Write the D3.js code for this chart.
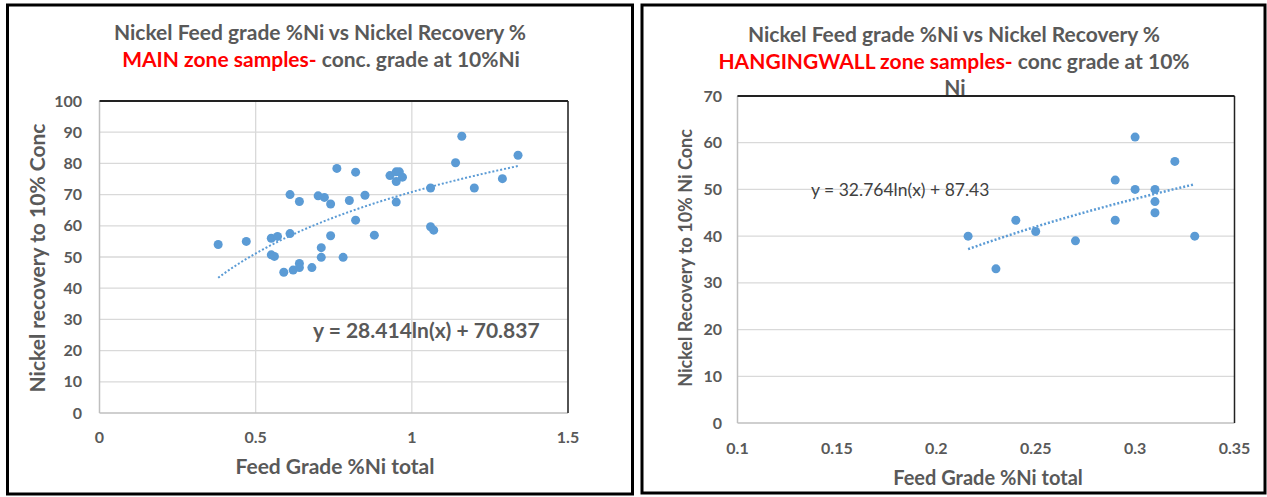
<!DOCTYPE html>
<html>
<head>
<meta charset="utf-8">
<script src="https://cdn.jsdelivr.net/npm/d3@7"></script>
<style>
  body { margin: 0; background: #fff; }
  text { font-family: Lato, "Open Sans", sans-serif; }
</style>
</head>
<body>
<script>
// MAIN zone samples: feed grade %Ni, recovery %
const mainGrade = [0.38, 0.47, 0.55, 0.57, 0.61, 0.55, 0.56, 0.59, 0.62, 0.64, 0.64, 0.68, 0.71, 0.71,
  0.74, 0.78, 0.82, 0.88, 0.61, 0.64, 0.70, 0.72, 0.74, 0.80, 0.85, 0.76, 0.82, 0.93, 0.95, 0.96,
  0.97, 0.95, 0.95, 1.06, 1.06, 1.07, 1.14, 1.16, 1.20, 1.29, 1.34];
const mainRecovery = [54, 55, 56, 56.6, 57.5, 50.7, 50.2, 45.1, 45.8, 47.9, 46.6, 46.6, 53, 49.9,
  56.8, 49.9, 61.8, 57, 70, 67.8, 69.6, 69.1, 67, 68.1, 69.8, 78.4, 77.2, 76.1, 77.3, 77.3,
  75.6, 74.2, 67.6, 72.1, 59.7, 58.6, 80.2, 88.7, 72.1, 75.1, 82.6];
const mainFit = { a: 28.414, b: 70.837, from: 0.38, to: 1.34 };

// HANGINGWALL zone samples
const hwGrade = [0.216, 0.23, 0.24, 0.25, 0.27, 0.29, 0.29, 0.30, 0.30, 0.31, 0.31, 0.31, 0.32, 0.33];
const hwRecovery = [40, 33, 43.4, 41, 39, 52, 43.4, 61.2, 50, 50, 47.4, 45, 56, 40];
const hwFit = { a: 32.764, b: 87.43, from: 0.216, to: 0.33 };

const mainXTicks = [0, 0.5, 1, 1.5];
const mainYTicks = [0, 10, 20, 30, 40, 50, 60, 70, 80, 90, 100];
const hwXTicks = [0.1, 0.15, 0.2, 0.25, 0.3, 0.35];
const hwYTicks = [0, 10, 20, 30, 40, 50, 60, 70];

const W = 1267, H = 497;
const blue = "#5B9BD5", gray = "#595959", grid = "#d9d9d9";

const svg = d3.select("body").append("svg")
  .attr("width", W).attr("height", H);

// outer frames
svg.append("rect").attr("x", 7.5).attr("y", 5).attr("width", 625).attr("height", 489)
  .attr("fill", "none").attr("stroke", "#000").attr("stroke-width", 3);
svg.append("rect").attr("x", 642).attr("y", 5).attr("width", 623).attr("height", 488)
  .attr("fill", "none").attr("stroke", "#000").attr("stroke-width", 3);

function drawChart(cfg) {
  const x = d3.scaleLinear().domain(cfg.xDomain).range(cfg.xRange);
  const y = d3.scaleLinear().domain(cfg.yDomain).range(cfg.yRange);
  const g = svg.append("g");

  // horizontal gridlines
  g.selectAll(".hgrid").data(cfg.yTicks.slice(1))
    .enter().append("line")
    .attr("x1", cfg.xRange[0]).attr("x2", cfg.xRange[1])
    .attr("y1", d => y(d)).attr("y2", d => y(d))
    .attr("stroke", grid).attr("stroke-width", 1.3);

  if (cfg.vGrid) {
    g.selectAll(".vgrid").data(cfg.xTicks.slice(1))
      .enter().append("line")
      .attr("x1", d => x(d)).attr("x2", d => x(d))
      .attr("y1", cfg.yRange[0]).attr("y2", cfg.yRange[1])
      .attr("stroke", grid).attr("stroke-width", 1.3);
  }

  // axes lines (bottom / left lighter, top / right dark)
  g.append("line").attr("x1", cfg.xRange[0]).attr("x2", cfg.xRange[1])
    .attr("y1", cfg.yRange[0]).attr("y2", cfg.yRange[0])
    .attr("stroke", "#bfbfbf").attr("stroke-width", 1.5);
  g.append("line").attr("x1", cfg.xRange[0]).attr("x2", cfg.xRange[0])
    .attr("y1", cfg.yRange[0]).attr("y2", cfg.yRange[1])
    .attr("stroke", "#bfbfbf").attr("stroke-width", 1.5);
  g.append("line").attr("x1", cfg.xRange[0]).attr("x2", cfg.xRange[1])
    .attr("y1", cfg.yRange[1]).attr("y2", cfg.yRange[1])
    .attr("stroke", "#222").attr("stroke-width", 2);
  g.append("line").attr("x1", cfg.xRange[1]).attr("x2", cfg.xRange[1])
    .attr("y1", cfg.yRange[0]).attr("y2", cfg.yRange[1])
    .attr("stroke", "#222").attr("stroke-width", 1.5);

  // tick labels
  g.selectAll(".ylab").data(cfg.yTicks).enter().append("text")
    .attr("x", cfg.yLabelX).attr("y", d => y(d))
    .attr("dy", "0.35em").attr("text-anchor", "end")
    .attr("font-size", 16).attr("font-weight", 700).attr("fill", gray)
    .text(d => d);
  g.selectAll(".xlab").data(cfg.xTicks).enter().append("text")
    .attr("x", d => x(d)).attr("y", cfg.xLabelY)
    .attr("dy", "0.35em").attr("text-anchor", "middle")
    .attr("font-size", 16).attr("font-weight", 700).attr("fill", gray)
    .text(d => d);

  // axis titles
  g.append("text")
    .attr("x", cfg.xTitle[0]).attr("y", cfg.xTitle[1])
    .attr("dy", "0.35em").attr("text-anchor", "middle")
    .attr("font-size", cfg.xTitle[2]).attr("font-weight", 700).attr("fill", gray)
    .text("Feed Grade %Ni total");
  g.append("text")
    .attr("transform", `translate(${cfg.yTitle[0]},${cfg.yTitle[1]}) rotate(-90)`)
    .attr("dy", "0.35em").attr("text-anchor", "middle")
    .attr("font-size", cfg.yTitle[2]).attr("font-weight", 700).attr("fill", gray)
    .text(cfg.yTitleText);

  // trendline
  const fx = d3.range(0, 61).map(i => cfg.fit.from + (cfg.fit.to - cfg.fit.from) * i / 60);
  g.append("path")
    .datum(fx)
    .attr("fill", "none").attr("stroke", blue)
    .attr("stroke-width", cfg.fitWidth).attr("stroke-dasharray", "2,2")
    .attr("d", d3.line().x(d => x(d)).y(d => y(cfg.fit.a * Math.log(d) + cfg.fit.b)));

  // points
  g.selectAll(".dot").data(cfg.xs).enter().append("circle")
    .attr("cx", d => x(d)).attr("cy", (d, i) => y(cfg.ys[i]))
    .attr("r", 4.5).attr("fill", blue);

  // equation
  g.append("text")
    .attr("x", cfg.eq[0]).attr("y", cfg.eq[1]).attr("dy", "0.35em")
    .attr("font-size", cfg.eq[2]).attr("font-weight", cfg.eq[3]).attr("fill", cfg.eq[4])
    .text(cfg.eqText);

  // titles
  cfg.title.forEach(t => {
    const tx = g.append("text").attr("x", t.x).attr("y", t.y).attr("dy", "0.35em")
      .attr("text-anchor", "middle").attr("font-size", t.size).attr("font-weight", 700);
    t.parts.forEach(p => tx.append("tspan").attr("fill", p[1]).text(p[0]));
  });
}

drawChart({
  xDomain: [0, 1.5], xRange: [99.5, 568],
  yDomain: [0, 100], yRange: [413, 101],
  xTicks: mainXTicks, yTicks: mainYTicks, vGrid: true,
  yLabelX: 82, xLabelY: 437,
  xTitle: [335, 467, 21], yTitle: [38, 258, 21],
  yTitleText: "Nickel recovery to 10% Conc",
  xs: mainGrade, ys: mainRecovery, fit: mainFit, fitWidth: 2,
  eq: [313, 331, 21, 700, gray], eqText: "y = 28.414ln(x) + 70.837",
  title: [
    { x: 320, y: 33, size: 21, parts: [["Nickel Feed grade %Ni vs Nickel Recovery %", gray]] },
    { x: 321, y: 60, size: 21, parts: [["MAIN zone samples-", "#ff0000"], [" conc. grade at 10%Ni", gray]] }
  ]
});

drawChart({
  xDomain: [0.1, 0.35], xRange: [737.5, 1234.5],
  yDomain: [0, 70], yRange: [423, 96],
  xTicks: hwXTicks, yTicks: hwYTicks, vGrid: false,
  yLabelX: 722, xLabelY: 448,
  xTitle: [988, 478, 20], yTitle: [686, 258, 18],
  yTitleText: "Nickel Recovery to 10% Ni Conc",
  xs: hwGrade, ys: hwRecovery, fit: hwFit, fitWidth: 2.5,
  eq: [811, 190, 17.5, 400, "#404040"], eqText: "y = 32.764ln(x) + 87.43",
  title: [
    { x: 954, y: 35, size: 21, parts: [["Nickel Feed grade %Ni vs Nickel Recovery %", gray]] },
    { x: 954, y: 62, size: 21, parts: [["HANGINGWALL zone samples-", "#ff0000"], [" conc grade at 10%", gray]] },
    { x: 955, y: 88, size: 21, parts: [["Ni", gray]] }
  ]
});
</script>
</body>
</html>
